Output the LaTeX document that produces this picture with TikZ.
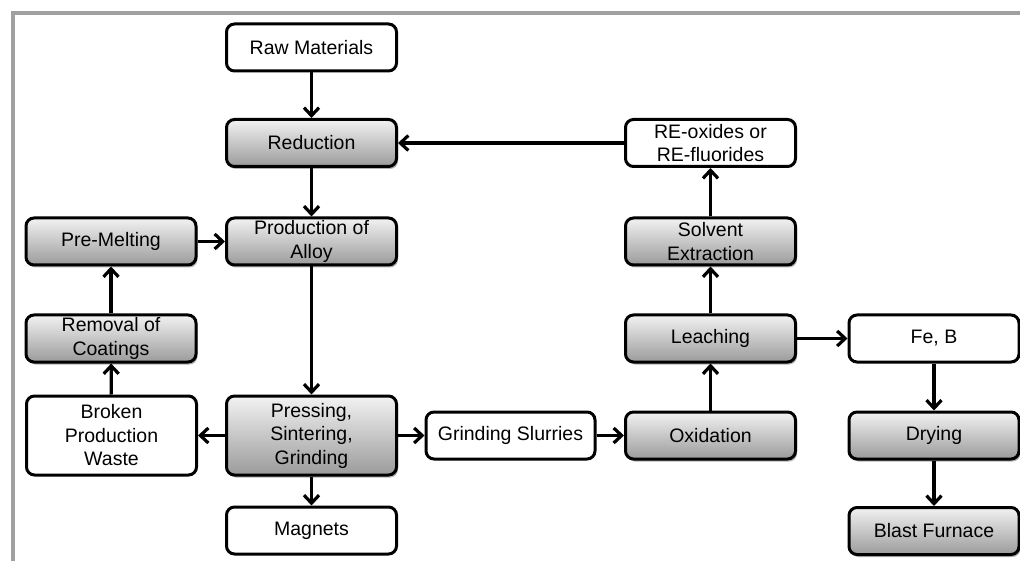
\documentclass[tikz,border=0pt]{standalone}
\usepackage{fontspec}
\setmainfont{Liberation Sans}
\usetikzlibrary{arrows.meta,shadows}
\definecolor{topg}{RGB}{242,242,242}
\definecolor{botg}{RGB}{155,155,155}
\definecolor{frameg}{RGB}{160,160,160}
\begin{document}
\begin{tikzpicture}[x=1pt,y=1pt,
  base/.style={draw=black,line width=3pt,rounded corners=8pt,align=center,
    minimum width=170pt,minimum height=47pt,inner sep=0pt,
    font=\fontsize{19.5}{23.5}\selectfont},
  whitebox/.style={base,fill=white},
  graybox/.style={base,top color=topg,bottom color=botg,
    drop shadow={shadow xshift=1.5pt,shadow yshift=-2.5pt,opacity=0.3,fill=black}},
  tall/.style={minimum height=79pt},
  conn/.style={line width=3.2pt,-{Straight Barb[length=8pt,width=15pt,line width=3.2pt]}}]
\useasboundingbox (0,0) rectangle (1020,-561);
\draw[frameg,line width=3.5pt] (13,-561) -- (13,-13) -- (1020,-13);
\node[whitebox] (raw) at (311.5,-47.5) {Raw Materials};
\node[graybox] (red) at (311.5,-143) {Reduction};
\node[graybox] (prod) at (311.5,-241.5) {Production of\\Alloy};
\node[graybox] (pre) at (111,-241.5) {Pre-Melting};
\node[graybox] (rem) at (111,-338.5) {Removal of\\Coatings};
\node[whitebox,tall] (brk) at (111.5,-435.5) {Broken\\Production\\Waste};
\node[graybox,tall] (pss) at (311.5,-435.5) {Pressing,\\Sintering,\\Grinding};
\node[whitebox] (mag) at (311.5,-530.5) {Magnets};
\node[whitebox,minimum width=169pt] (gs) at (510.5,-435.5) {Grinding Slurries};
\node[graybox] (oxi) at (710.5,-435.5) {Oxidation};
\node[graybox] (lea) at (710.5,-338.5) {Leaching};
\node[graybox] (sol) at (710.5,-241.5) {Solvent\\Extraction};
\node[whitebox] (reo) at (710.5,-143) {RE-oxides or\\RE-fluorides};
\node[whitebox] (feb) at (934,-338.5) {Fe, B};
\node[graybox] (dry) at (934,-435.5) {Drying};
\node[graybox] (bf) at (934,-531) {Blast Furnace};
\draw[conn] (raw) -- (red);
\draw[conn] (reo) -- (red);
\draw[conn] (red) -- (prod);
\draw[conn] (pre) -- (prod);
\draw[conn] (prod) -- (pss);
\draw[conn] (rem) -- (pre);
\draw[conn] (brk) -- (rem);
\draw[conn] (pss) -- (brk);
\draw[conn] (pss) -- (gs);
\draw[conn] (pss) -- (mag);
\draw[conn] (gs) -- (oxi);
\draw[conn] (oxi) -- (lea);
\draw[conn] (lea) -- (sol);
\draw[conn] (sol) -- (reo);
\draw[conn] (lea) -- (feb);
\draw[conn] (feb) -- (dry);
\draw[conn] (dry) -- (bf);
\end{tikzpicture}
\end{document}
